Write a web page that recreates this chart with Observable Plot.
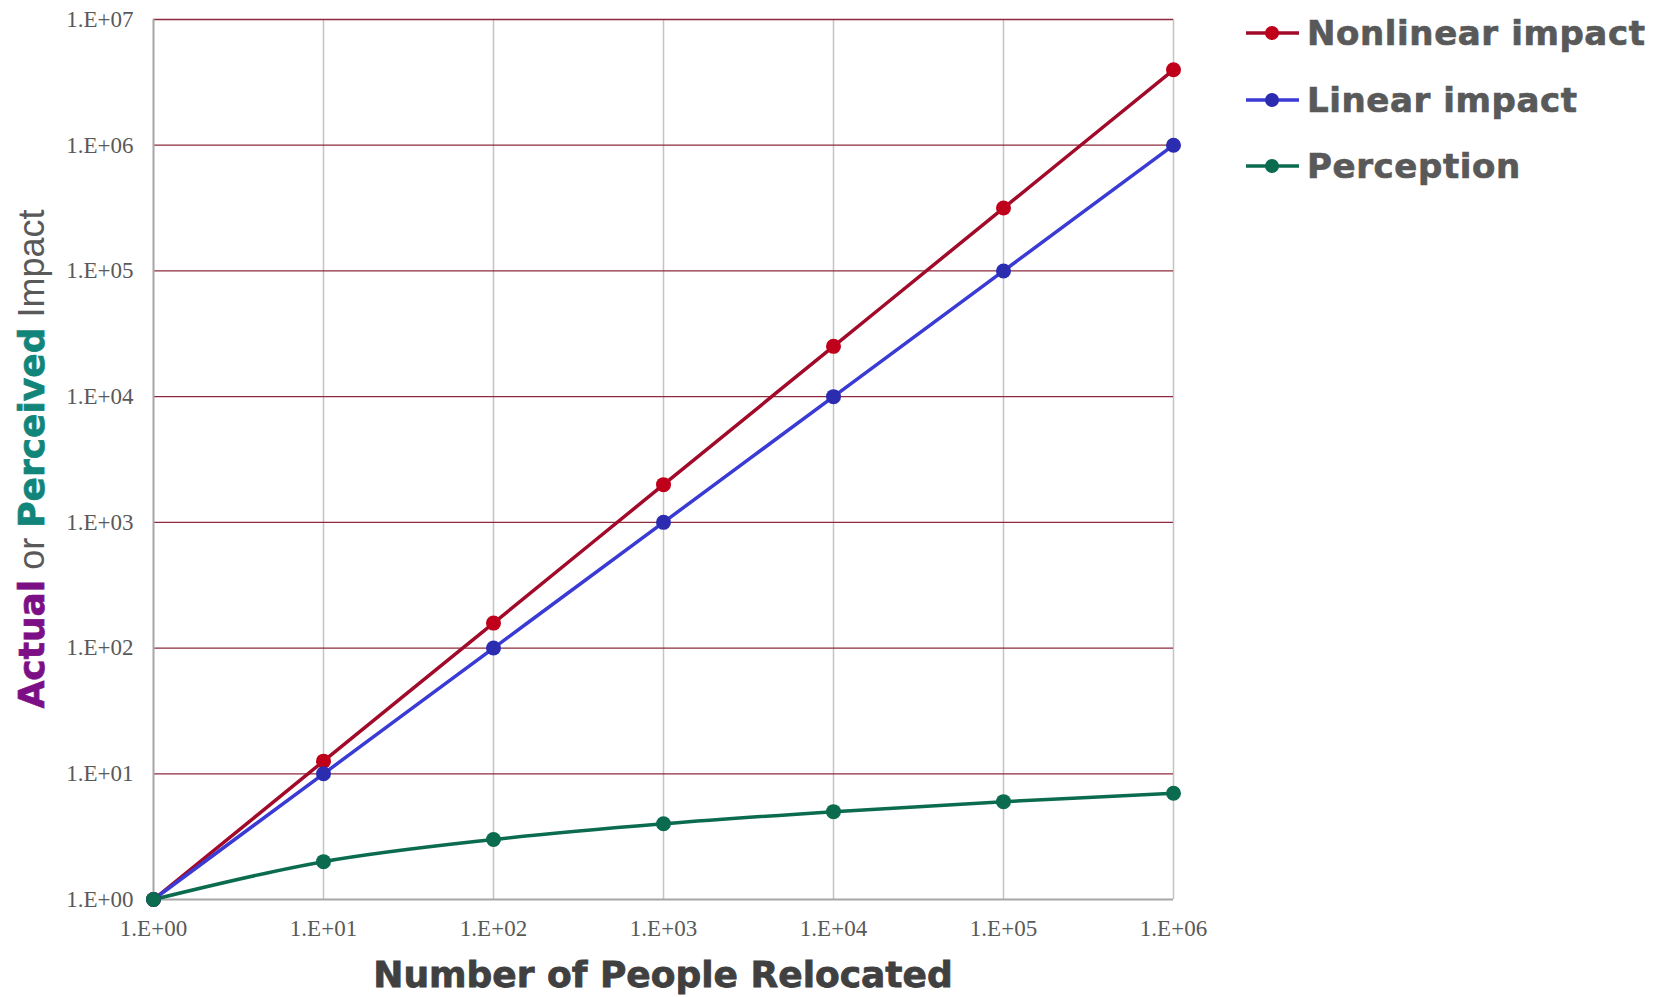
<!DOCTYPE html>
<html><head><meta charset="utf-8">
<script src="https://cdn.jsdelivr.net/npm/d3@7"></script>
<script src="https://cdn.jsdelivr.net/npm/@observablehq/plot@0.6"></script>
<style>
body{margin:0;background:#fff;}
#wrap{position:relative;width:1664px;height:997px;overflow:hidden;background:#fff;}
#ytitle{position:absolute;left:32px;top:459px;transform:translate(-50%,-50%) rotate(-90deg);white-space:nowrap;font-size:36px;line-height:1;color:#595959;font-family:"Liberation Sans",Arial,sans-serif;}
#ytitle b{font-family:"DejaVu Sans",sans-serif;font-weight:bold;-webkit-text-stroke:0.7px currentColor;}
#xtitle{position:absolute;left:663px;top:975px;transform:translate(-50%,-50%);white-space:nowrap;font-family:"DejaVu Sans",sans-serif;font-weight:bold;font-size:36px;color:#404040;line-height:1;-webkit-text-stroke:0.8px #404040;}
#legend{position:absolute;left:1246px;top:0;font-family:"DejaVu Sans",sans-serif;font-weight:bold;font-size:34px;letter-spacing:0.6px;color:#595959;-webkit-text-stroke:0.7px #595959;}
.row{position:absolute;left:0;white-space:nowrap;display:flex;align-items:center;height:40px;transform:translateY(-50%);}
.row svg{margin-right:8px;}
</style></head><body><div id="wrap"></div>
<script>
// ---- data ----
const people = [1, 10, 100, 1000, 10000, 100000, 1000000];
const nonlinearImpact = [1, 12.6, 158, 1995, 25119, 316228, 3981072];
const linearImpact = [1, 10, 100, 1000, 10000, 100000, 1000000];
const perception = [1, 2, 3, 4, 5, 6, 7];
const seriesNames = ["Nonlinear impact", "Linear impact", "Perception"];
const xTicks = [1, 10, 100, 1000, 10000, 100000, 1000000];
const yTicks = [1, 10, 100, 1000, 10000, 100000, 1000000, 10000000];
const tickLabels = ["1.E+00","1.E+01","1.E+02","1.E+03","1.E+04","1.E+05","1.E+06","1.E+07"];

// ---- styling ----
const lineColors = ["#a20a2a", "#3a3ad4", "#0b6b4f"];
const dotColors = ["#c0001a", "#2c2cb0", "#0b6b4f"];

const seriesValues = [nonlinearImpact, linearImpact, perception];
const rows = [];
seriesValues.forEach((vals, s) => vals.forEach((v, i) => rows.push({series: s, x: people[i], y: v})));
const fmt = v => tickLabels[yTicks.indexOf(v)];

const wrap = document.getElementById("wrap");
const chart = Plot.plot({
  width: 1664, height: 997,
  marginLeft: 153, marginRight: 491, marginTop: 19, marginBottom: 98,
  style: {fontFamily: "'Liberation Serif', 'Times New Roman', serif", fontSize: "23px", color: "#595959", background: "white"},
  color: {type: "identity"},
  x: {type: "log", domain: [1, 1e6], ticks: xTicks, tickFormat: fmt, tickSize: 0, tickPadding: 20, label: null},
  y: {type: "log", domain: [1, 1e7], ticks: yTicks, tickFormat: fmt, tickSize: 0, tickPadding: 20, label: null},
  marks: [
    Plot.ruleX(xTicks.slice(1), {stroke: "#c4c4c4", strokeWidth: 1.5}),
    Plot.ruleY(yTicks.slice(1), {stroke: "#8e2a3d", strokeWidth: 1.3}),
    Plot.ruleX([xTicks[0]], {stroke: "#a6a6a6", strokeWidth: 2}),
    Plot.ruleY([yTicks[0]], {stroke: "#a6a6a6", strokeWidth: 2}),
    Plot.line(rows, {x: "x", y: "y", z: "series", stroke: d => lineColors[d.series], strokeWidth: 3.5, curve: "catmull-rom"}),
    Plot.dot(rows, {x: "x", y: "y", fill: d => dotColors[d.series], r: 7.5})
  ]
});
wrap.appendChild(chart);
chart.style.position = "absolute"; chart.style.left = "0"; chart.style.top = "0";

const yt = document.createElement("div");
yt.id = "ytitle";
yt.innerHTML = '<b style="color:#7d0f86">Actual</b> or <b style="color:#12857a">Perceived</b> Impact';
wrap.appendChild(yt);

const xt = document.createElement("div");
xt.id = "xtitle";
xt.textContent = "Number of People Relocated";
wrap.appendChild(xt);

const lg = document.createElement("div");
lg.id = "legend";
const legendY = [33, 100, 166];
seriesNames.forEach((name, s) => {
  const r = document.createElement("div");
  r.className = "row";
  r.style.top = legendY[s] + "px";
  r.innerHTML = `<svg width="53" height="20"><line x1="0" x2="53" y1="10" y2="10" stroke="${lineColors[s]}" stroke-width="3.5"/><circle cx="26" cy="10" r="7" fill="${dotColors[s]}"/></svg><span>${name}</span>`;
  lg.appendChild(r);
});
wrap.appendChild(lg);
</script></body></html>
